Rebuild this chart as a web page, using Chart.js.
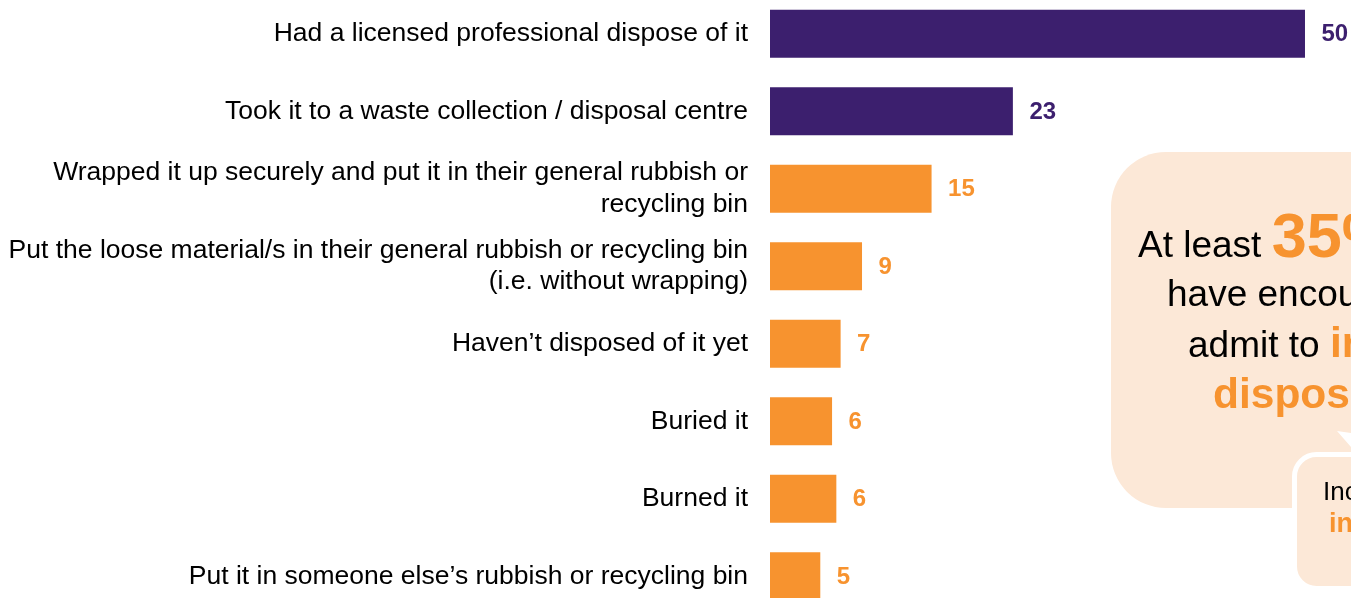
<!DOCTYPE html>
<html>
<head>
<meta charset="utf-8">
<script src="https://cdn.jsdelivr.net/npm/chart.js@4"></script>
<style>
  html, body { margin: 0; padding: 0; background: #fff; overflow: hidden; }
  #wrap { position: relative; width: 1351px; height: 598px; overflow: hidden; }
  #chart { position: absolute; left: 0; top: -5px; }
  #callout { position: absolute; left: 0; top: 0; pointer-events: none; }
  #callout text { font-family: "Liberation Sans", Arial, sans-serif; }
</style>
</head>
<body>
<div id="wrap">
  <canvas id="chart" width="1351" height="620"></canvas>
  <svg id="callout" width="1351" height="598">
    <rect x="1111" y="152" width="420" height="356" rx="55" fill="#FCE8D7"/>
    <polygon points="1337,431 1351,433 1351,447" fill="#fff"/>
    <rect x="1294.5" y="454.5" width="200" height="134" rx="22" fill="#FCE8D7" stroke="#fff" stroke-width="5"/>
    <text x="1138" y="257" font-size="37" fill="#000">At least <tspan font-size="63" font-weight="bold" fill="#F7932F">35%</tspan> of those who</text>
    <text x="1167" y="306" font-size="37" fill="#000">have encountered asbestos</text>
    <text x="1188" y="357" font-size="37" fill="#000">admit to <tspan font-size="42.5" font-weight="bold" fill="#F7932F">inappropriate</tspan></text>
    <text x="1213" y="408" font-size="42.5" font-weight="bold" fill="#F7932F">disposal practices</text>
    <text x="1323" y="500" font-size="26" fill="#000">Including</text>
    <text x="1329" y="532" font-size="27" font-weight="bold" fill="#F7932F">incorrectly</text>
  </svg>
</div>
<script>
// === DISPOSAL METHODS CHART ===

const categories = [
    'Had a licensed professional dispose of it',
    'Took it to a waste collection / disposal centre',
    ['Wrapped it up securely and put it in their general rubbish or', 'recycling bin'],
    ['Put the loose material/s in their general rubbish or recycling bin', '(i.e. without wrapping)'],
    'Haven\u2019t disposed of it yet',
    'Buried it',
    'Burned it',
    'Put it in someone else\u2019s rubbish or recycling bin'
];

// % of respondents (bar lengths, labels shown rounded)
const percentages = [50.0, 22.7, 15.1, 8.6, 6.6, 5.8, 6.2, 4.7];

// first two are the appropriate ways to dispose of it
const appropriate = [true, true, false, false, false, false, false, false];

const PURPLE = '#3C1F6E';
const ORANGE = '#F7932F';
const FONT = '"Liberation Sans", Arial, sans-serif';

const barColors = appropriate.map(ok => ok ? PURPLE : ORANGE);

// Draw the value labels just past the end of each bar
const valueLabels = {
    id: 'valueLabels',
    afterDatasetsDraw(chart) {
        const ctx = chart.ctx;
        const meta = chart.getDatasetMeta(0);
        ctx.save();
        ctx.font = 'bold 24px ' + FONT;
        ctx.textAlign = 'left';
        ctx.textBaseline = 'middle';
        meta.data.forEach((bar, i) => {
            ctx.fillStyle = barColors[i];
            ctx.fillText(Math.round(percentages[i]), bar.x + 16.5, bar.y + 1);
        });
        ctx.restore();
    }
};

const ctx = document.getElementById('chart').getContext('2d');
new Chart(ctx, {
    type: 'bar',
    data: {
        labels: categories,
        datasets: [{
            data: percentages,
            backgroundColor: barColors,
            borderWidth: 0,
            categoryPercentage: 1,
            barPercentage: 0.62
        }]
    },
    options: {
        indexAxis: 'y',
        responsive: false,
        animation: false,
        layout: { padding: 0 },
        plugins: {
            legend: { display: false },
            tooltip: { enabled: false }
        },
        scales: {
            x: {
                display: false,
                min: 0,
                max: 54.3
            },
            y: {
                grid: { display: false, drawTicks: false },
                border: { display: false },
                ticks: {
                    autoSkip: false,
                    crossAlign: 'near',
                    padding: 22,
                    color: '#000',
                    font: { family: FONT, size: 26.5, lineHeight: 1.2 }
                },
                afterFit(scale) {
                    // fixed label column, and no extra space above/below the bars
                    scale.width = 770;
                    scale.paddingTop = 0;
                    scale.paddingBottom = 0;
                }
            }
        }
    },
    plugins: [valueLabels]
});
</script>
</body>
</html>
